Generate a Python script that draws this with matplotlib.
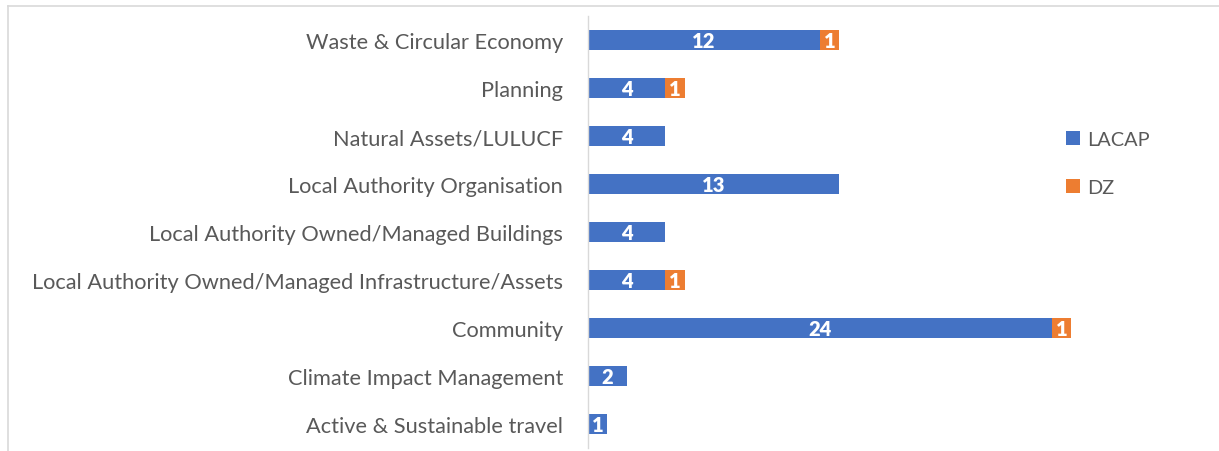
import matplotlib
matplotlib.use("Agg")
import matplotlib.pyplot as plt
from matplotlib.lines import Line2D
from matplotlib.patches import Patch

categories = ["Active & Sustainable travel", "Climate Impact Management", "Community",
              "Local Authority Owned/Managed Infrastructure/Assets",
              "Local Authority Owned/Managed Buildings", "Local Authority Organisation",
              "Natural Assets/LULUCF", "Planning", "Waste & Circular Economy"]
lacap = [1, 2, 24, 4, 4, 13, 4, 4, 12]
dz = [0, 0, 1, 1, 0, 0, 0, 1, 1]
series_names = ["LACAP", "DZ"]

BLUE = "#4472C4"
ORANGE = "#ED7D31"
TEXT = "#595959"
FONT = "Lato"

W, H = 1219, 452
fig = plt.figure(figsize=(W/100, H/100), dpi=100)
ax_left = 588 / W
ax_right = (588 + 32 * 19.33) / W
ax_top = 1 - 17 / H
ax_bottom = 1 - 449 / H
ax = fig.add_axes([ax_left, ax_bottom, ax_right - ax_left, ax_top - ax_bottom])

y = list(range(len(categories)))
b1 = ax.barh(y, lacap, height=0.41, color=BLUE)
b2 = ax.barh(y, dz, left=lacap, height=0.41, color=ORANGE)

for bars, vals in ((b1, lacap), (b2, dz)):
    for rect, v in zip(bars, vals):
        if v:
            ax.text(rect.get_x() + rect.get_width()/2, rect.get_y() + rect.get_height()/2 - 0.02, str(v),
                    ha="center", va="center", color="white", fontweight="heavy", fontsize=14.5, family=FONT)

ax.set_xlim(0, 32)
ax.set_ylim(-0.5, len(categories) - 0.5)
ax.set_yticks(y)
ax.set_yticklabels(categories, fontsize=15.7, color=TEXT, family=FONT)
ax.tick_params(axis="y", length=0, pad=18)
ax.set_xticks([])
for s in ["top", "right", "bottom"]:
    ax.spines[s].set_visible(False)
ax.spines["left"].set_color("#D9D9D9")
ax.spines["left"].set_linewidth(1)

handles = [Patch(facecolor=BLUE), Patch(facecolor=ORANGE)]
fig.legend(handles, series_names, loc="upper left", bbox_to_anchor=(1048 / W, 1 - 114 / H),
           frameon=False, labelcolor=TEXT, handlelength=0.7, handleheight=0.7,
           handletextpad=0.35, labelspacing=1.55, prop={"family": FONT, "size": 14.3})

# chart border (top and left)
fig.add_artist(Line2D([8 / W, 1], [1 - 7 / H, 1 - 7 / H], color="#D9D9D9", lw=1.2, transform=fig.transFigure))
fig.add_artist(Line2D([8 / W, 8 / W], [0, 1 - 7 / H], color="#D9D9D9", lw=1.2, transform=fig.transFigure))

fig.savefig("out.png", dpi=100)
